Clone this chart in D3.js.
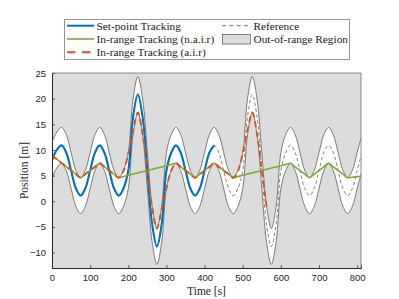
<!DOCTYPE html>
<html>
<head>
<meta charset="utf-8">
<script src="https://cdn.jsdelivr.net/npm/d3@7"></script>
<style>
body { margin: 0; background: #fff; }
</style>
</head>
<body>
<svg id="chart" width="399" height="299"></svg>
<script>
// sample times [s], every 12.5 s
const times = d3.range(0, 813, 12.5);

// reference position [m]
const refPos = [
    8.0, 10.0, 10.9, 9.46, 6, 2.54, 1.1, 2.54,
    6, 9.46, 10.9, 9.46, 6, 2.54, 1.1, 2.54,
    6, 16.46, 20.8, 16.46, 6, -4.46, -8.8, -4.46,
    6, 9.46, 10.9, 9.46, 6, 2.54, 1.1, 2.54,
    6, 9.46, 10.9, 9.46, 6, 2.54, 1.1, 2.54,
    6, 16.46, 20.8, 16.46, 6, -4.46, -8.8, -4.46,
    6, 9.46, 10.9, 9.46, 6, 2.54, 1.1, 2.54,
    6, 9.46, 10.9, 9.46, 6, 2.54, 1.1, 2.54,
    6, 9.46
];

// edges of the allowed range
const upperBound = [
    11.5, 13.5, 14.4, 12.96, 9.5, 6.04, 4.6, 6.04,
    9.5, 12.96, 14.4, 12.96, 9.5, 6.04, 4.6, 6.04,
    9.5, 19.96, 24.3, 19.96, 9.5, -0.96, -5.3, -0.96,
    9.5, 12.96, 14.4, 12.96, 9.5, 6.04, 4.6, 6.04,
    9.5, 12.96, 14.4, 12.96, 9.5, 6.04, 4.6, 6.04,
    9.5, 19.96, 24.3, 19.96, 9.5, -0.96, -5.3, -0.96,
    9.5, 12.96, 14.4, 12.96, 9.5, 6.04, 4.6, 6.04,
    9.5, 12.96, 14.4, 12.96, 9.5, 6.04, 4.6, 6.04,
    9.5, 12.96
];
const lowerBound = [
    4.5, 6.5, 7.4, 5.96, 2.5, -0.96, -2.4, -0.96,
    2.5, 5.96, 7.4, 5.96, 2.5, -0.96, -2.4, -0.96,
    2.5, 12.96, 17.3, 12.96, 2.5, -7.96, -12.3, -7.96,
    2.5, 5.96, 7.4, 5.96, 2.5, -0.96, -2.4, -0.96,
    2.5, 5.96, 7.4, 5.96, 2.5, -0.96, -2.4, -0.96,
    2.5, 12.96, 17.3, 12.96, 2.5, -7.96, -12.3, -7.96,
    2.5, 5.96, 7.4, 5.96, 2.5, -0.96, -2.4, -0.96,
    2.5, 5.96, 7.4, 5.96, 2.5, -0.96, -2.4, -0.96,
    2.5, 5.96
];

// set-point tracking (stops at 425 s)
const setPoint = [
    8.0, 10.0, 10.9, 9.46, 6, 2.54, 1.1, 2.54,
    6, 9.46, 10.9, 9.46, 6, 2.54, 1.1, 2.54,
    6, 16.46, 20.8, 16.46, 6, -4.46, -8.8, -4.46,
    6, 9.46, 10.9, 9.46, 6, 2.54, 1.1, 2.54,
    6, 9.46, 10.9
];

// in-range tracking, n.a.i.r
const inRangeNair = [
    8.9, 8.2, 7.45, 6.75, 6.05, 5.3, 4.6, 5.3,
    6.0, 6.7, 7.4, 6.7, 6.0, 5.3, 4.6, 4.83,
    5.07, 5.3, 5.53, 5.77, 6.0, 6.23, 6.47, 6.7,
    6.93, 7.17, 7.4, 6.7, 6.0, 5.3, 4.6, 5.3,
    6.0, 6.7, 7.4, 6.7, 6.0, 5.3, 4.6, 4.83,
    5.07, 5.3, 5.53, 5.77, 6.0, 6.23, 6.47, 6.7,
    6.93, 7.17, 7.4, 6.7, 6.0, 5.3, 4.6, 5.3,
    6.0, 6.7, 7.4, 6.7, 6.0, 5.3, 4.6, 4.7,
    4.8, 4.9
];

// in-range tracking, a.i.r (stops near 565 s)
const inRangeAir = [
    8.9, 8.2, 7.45, 6.75, 6.05, 5.3, 4.6, 5.3,
    6.0, 6.7, 7.4, 6.7, 6.0, 5.3, 4.6, 5.9,
    9.3, 13.8, 17.3, 13.2, 6.0, -1.2, -5.3, -1.6,
    2.6, 6.0, 7.4, 6.7, 6.0, 5.3, 4.6, 5.3,
    6.0, 6.7, 7.4, 6.7, 6.0, 5.3, 4.6, 5.9,
    9.3, 13.8, 17.3, 13.2, 6.0, -1.2
];

const xTicks = [0, 100, 200, 300, 400, 500, 600, 700, 800];
const yTicks = [-10, -5, 0, 5, 10, 15, 20, 25];

const svg = d3.select("#chart");
const pLeft = 52, pRight = 361, pTop = 73, pBottom = 268;

let x = d3.scaleLinear().domain([0, 810]).range([pLeft, pRight]);
let y = d3.scaleLinear().domain([-13, 25]).range([pBottom, pTop]);

svg.append("clipPath").attr("id", "plotClip")
    .append("rect")
    .attr("x", pLeft).attr("y", pTop)
    .attr("width", pRight - pLeft).attr("height", pBottom - pTop);

// out-of-range background
svg.append("rect")
    .attr("x", pLeft).attr("y", pTop)
    .attr("width", pRight - pLeft).attr("height", pBottom - pTop)
    .attr("fill", "#dcdcdc");

let plot = svg.append("g").attr("clip-path", "url(#plotClip)");
let curve = d3.curveCatmullRom;

let band = d3.area()
    .x((d, i) => x(times[i]))
    .y0((d, i) => y(lowerBound[i]))
    .y1((d, i) => y(upperBound[i]))
    .curve(curve);

plot.append("path")
    .attr("d", band(times))
    .attr("fill", "white");

function lineOf(values) {
    return d3.line()
        .x((d, i) => x(times[i]))
        .y(d => y(d))
        .curve(curve)(values);
}

[upperBound, lowerBound].forEach(b => {
    plot.append("path")
        .attr("d", lineOf(b))
        .attr("fill", "none")
        .attr("stroke", "#555")
        .attr("stroke-width", 0.75);
});

plot.append("path")
    .attr("d", lineOf(refPos))
    .attr("fill", "none")
    .attr("stroke", "#333")
    .attr("stroke-width", 0.6)
    .attr("stroke-dasharray", "3.5,2.5");

plot.append("path")
    .attr("d", lineOf(setPoint))
    .attr("fill", "none")
    .attr("stroke", "#0072BD")
    .attr("stroke-width", 2.1);

plot.append("path")
    .attr("d", lineOf(inRangeNair))
    .attr("fill", "none")
    .attr("stroke", "#77AC30")
    .attr("stroke-width", 1.6);

plot.append("path")
    .attr("d", lineOf(inRangeAir))
    .attr("fill", "none")
    .attr("stroke", "#D95319")
    .attr("stroke-width", 1.9)
    .attr("stroke-dasharray", "6,4");

// axes
let xAxis = d3.axisBottom(x).tickValues(xTicks).tickSize(-3).tickPadding(6);
let yAxis = d3.axisLeft(y).tickValues(yTicks).tickSize(-3).tickPadding(6);

let gx = svg.append("g").attr("transform", `translate(0,${pBottom})`).call(xAxis);
let gy = svg.append("g").attr("transform", `translate(${pLeft},0)`).call(yAxis);

[gx, gy].forEach(g => {
    g.select(".domain").attr("stroke", "#262626").attr("stroke-width", 1);
    g.selectAll(".tick line").attr("stroke", "#262626").attr("stroke-width", 0.7);
    g.selectAll(".tick text")
        .attr("fill", "#262626")
        .style("font-family", "Liberation Sans, Arial, sans-serif")
        .style("font-size", "9.5px");
});

// box top / right
svg.append("line")
    .attr("x1", pLeft).attr("x2", pRight).attr("y1", pTop).attr("y2", pTop)
    .attr("stroke", "#8a8a8a").attr("stroke-width", 1);
svg.append("line")
    .attr("x1", pRight).attr("x2", pRight).attr("y1", pTop).attr("y2", pBottom)
    .attr("stroke", "#8a8a8a").attr("stroke-width", 1);

const serif = "Liberation Serif, Times New Roman, serif";

svg.append("text")
    .attr("x", (pLeft + pRight) / 2)
    .attr("y", 295)
    .attr("text-anchor", "middle")
    .style("font-family", serif)
    .style("font-size", "11.5px")
    .attr("fill", "#262626")
    .text("Time [s]");

svg.append("text")
    .attr("transform", `translate(28,${(pTop + pBottom) / 2}) rotate(-90)`)
    .attr("text-anchor", "middle")
    .style("font-family", serif)
    .style("font-size", "11.5px")
    .attr("fill", "#262626")
    .text("Position [m]");

// legend
let legend = svg.append("g");
legend.append("rect")
    .attr("x", 64.5).attr("y", 19.5)
    .attr("width", 285).attr("height", 40)
    .attr("fill", "white")
    .attr("stroke", "#7a7a7a")
    .attr("stroke-width", 0.8);

let rows = [25.7, 39, 52.3];

function legendText(tx, ty, label) {
    legend.append("text")
        .attr("x", tx).attr("y", ty + 3.8)
        .style("font-family", serif)
        .style("font-size", "11.3px")
        .attr("fill", "#1a1a1a")
        .text(label);
}

legend.append("line")
    .attr("x1", 67).attr("x2", 94).attr("y1", rows[0]).attr("y2", rows[0])
    .attr("stroke", "#0072BD").attr("stroke-width", 2);
legendText(96.5, rows[0], "Set-point Tracking");

legend.append("line")
    .attr("x1", 67).attr("x2", 94).attr("y1", rows[1]).attr("y2", rows[1])
    .attr("stroke", "#77AC30").attr("stroke-width", 1.6);
legendText(96.5, rows[1], "In-range Tracking (n.a.i.r)");

legend.append("line")
    .attr("x1", 67).attr("x2", 94).attr("y1", rows[2]).attr("y2", rows[2])
    .attr("stroke", "#D95319").attr("stroke-width", 1.9)
    .attr("stroke-dasharray", "8.5,6.5");
legendText(96.5, rows[2], "In-range Tracking (a.i.r)");

legend.append("line")
    .attr("x1", 222).attr("x2", 251).attr("y1", rows[0]).attr("y2", rows[0])
    .attr("stroke", "#333").attr("stroke-width", 0.7)
    .attr("stroke-dasharray", "4,3.3");
legendText(253.5, rows[0], "Reference");

legend.append("rect")
    .attr("x", 222.5).attr("y", 34.5)
    .attr("width", 28).attr("height", 9.5)
    .attr("fill", "#dcdcdc")
    .attr("stroke", "#555").attr("stroke-width", 0.7);
legendText(253.5, rows[1], "Out-of-range Region");
</script>
</body>
</html>
